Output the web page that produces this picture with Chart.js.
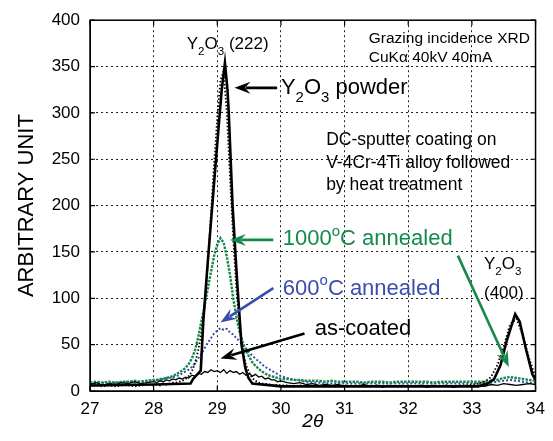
<!DOCTYPE html>
<html>
<head>
<meta charset="utf-8">
<script src="https://cdn.jsdelivr.net/npm/chart.js@4.4.1/dist/chart.umd.min.js"></script>
<style>
  html, body { margin: 0; background: #fff; }
  #wrap { width: 553px; height: 441px; }
</style>
</head>
<body>
<div id="wrap"><canvas id="xrd"></canvas></div>
<script>
// 2-theta sample positions shared by the measured scans
const theta = [
  27.0, 27.1, 27.2, 27.3, 27.4, 27.5, 27.6, 27.7, 27.8, 27.9, 28.0,
  28.05, 28.1, 28.15, 28.2, 28.25, 28.3, 28.35, 28.4, 28.45, 28.5,
  28.55, 28.6, 28.65, 28.7, 28.75, 28.8, 28.85, 28.9, 28.95, 29.0,
  29.05, 29.1, 29.15, 29.2, 29.25, 29.3, 29.35, 29.4, 29.45, 29.5,
  29.55, 29.6, 29.65, 29.7, 29.75, 29.8, 29.85, 29.9, 29.95, 30.0,
  30.1, 30.2, 30.3, 30.4, 30.5, 30.6, 30.7, 30.8, 30.9, 31.0,
  31.1, 31.2, 31.3, 31.4, 31.5, 31.6, 31.7, 31.8, 31.9, 32.0,
  32.1, 32.2, 32.3, 32.4, 32.5, 32.6, 32.7, 32.8, 32.9, 33.0,
  33.1, 33.2, 33.3, 33.4, 33.5, 33.6, 33.7, 33.8, 33.9, 34.0
];

const powderRaw = [
  5, 6, 5, 6, 5, 6, 6, 5, 6, 7, 6,
  7, 6, 8, 7, 8, 9, 9, 10, 11, 13,
  16, 21, 30, 44, 62, 90, 135, 190, 245, 295,
  335, 345, 300, 230, 165, 110, 70, 45, 28, 20,
  14, 11, 9, 8, 8, 7, 7, 6, 7, 6,
  6, 5, 6, 5, 6, 5, 6, 5, 5, 6,
  5, 6, 5, 5, 6, 5, 6, 5, 5, 6,
  5, 6, 5, 6, 5, 6, 5, 6, 6, 7,
  8, 10, 15, 28, 48, 72, 78, 60, 35, 15
];

const asCoated = [
  7, 9, 6, 8, 7, 9, 8, 10, 8, 9, 10,
  9, 11, 10, 12, 11, 13, 12, 14, 13, 15,
  14, 17, 16, 19, 18, 21, 20, 23, 21, 22,
  20, 23, 19, 22, 20, 21, 18, 20, 17, 19,
  16, 18, 15, 16, 13, 14, 12, 12, 10, 11,
  9, 8, 9, 7, 8, 6, 7, 6, 7, 5,
  6, 5, 7, 5, 6, 4, 6, 5, 6, 5,
  5, 6, 4, 6, 5, 6, 4, 5, 6, 5,
  6, 5, 7, 6, 8, 7, 6, 7, 8, 7
];

const annealed1000 = [
  9, 10, 9, 10, 9, 10, 10, 11, 10, 11, 12,
  12, 13, 13, 14, 15, 16, 18, 20, 22, 25,
  29, 35, 44, 58, 75, 92, 110, 128, 146, 158,
  165, 160, 145, 125, 100, 80, 64, 52, 44, 37,
  31, 27, 24, 21, 19, 17, 16, 15, 14, 13,
  13, 12, 12, 11, 11, 11, 10, 11, 10, 10,
  10, 10, 9, 10, 10, 10, 9, 10, 10, 10,
  10, 10, 10, 9, 10, 10, 10, 10, 10, 10,
  10, 10, 11, 12, 14, 15, 14, 13, 12, 11
];

const annealed600 = [
  8, 8, 9, 8, 9, 9, 10, 9, 10, 11, 11,
  12, 12, 13, 14, 14, 15, 16, 17, 19, 21,
  23, 26, 30, 35, 40, 46, 52, 57, 62, 65,
  68, 66, 67, 63, 61, 57, 54, 50, 46, 42,
  38, 35, 32, 29, 26, 24, 22, 20, 18, 16,
  14, 12, 11, 10, 9, 9, 8, 8, 8, 8,
  8, 8, 8, 8, 8, 8, 8, 8, 8, 8,
  8, 8, 8, 8, 8, 8, 8, 8, 8, 8,
  8, 8, 9, 10, 11, 12, 11, 10, 9, 9
];

// reference powder pattern (solid line)
const powderFitX = [27.0, 28.0, 28.58, 28.62, 28.7, 28.74, 28.78, 28.84, 28.9, 28.96, 29.02, 29.07, 29.12,
  29.16, 29.18, 29.24, 29.31, 29.38, 29.44, 29.49, 29.55, 30.0, 31.0, 32.0, 33.1, 33.25, 33.35, 33.45,
  33.55, 33.68, 33.75, 33.85, 33.95, 34.0];
const powderFitY = [6, 7, 8, 13, 19, 22, 75, 130, 182, 233, 284, 325, 354,
  325, 300, 200, 120, 50, 25, 14, 8, 5, 5, 5, 5, 8, 13, 28,
  55, 83, 75, 45, 18, 12];

const green = "#138a4b";
const blue = "#3a4cae";
const fontFamily = '"Liberation Sans", Arial, sans-serif';

const sub = (t) => [t, "sub"];
const sup = (t) => [t, "sup"];

const labels = [
  { x: 28.52, y: 369, size: 17, color: "#000", parts: [["Y"], sub("2"), ["O"], sub("3"), [" (222)"]] },
  { x: 31.38, y: 375, size: 15.5, color: "#000", parts: [["Grazing incidence XRD"]] },
  { x: 31.38, y: 355, size: 15.5, color: "#000", parts: [["CuK\u03b1 40kV 40mA"]] },
  { x: 30.0, y: 320, size: 22, color: "#000", parts: [["Y"], sub("2"), ["O"], sub("3"), [" powder"]] },
  { x: 30.71, y: 265, size: 17.5, color: "#000", parts: [["DC-sputter coating on"]] },
  { x: 30.71, y: 241, size: 17.5, color: "#000", parts: [["V-4Cr-4Ti alloy followed"]] },
  { x: 30.71, y: 217, size: 17.5, color: "#000", parts: [["by heat treatment"]] },
  { x: 30.03, y: 157, size: 22, color: green, parts: [["1000"], sup("o"), ["C annealed"]] },
  { x: 30.03, y: 104, size: 22, color: blue, parts: [["600"], sup("o"), ["C annealed"]] },
  { x: 30.53, y: 60, size: 22, color: "#000", parts: [["as-coated"]] },
  { x: 33.19, y: 132, size: 17, color: "#000", parts: [["Y"], sub("2"), ["O"], sub("3")] },
  { x: 33.19, y: 100, size: 17, color: "#000", parts: [["(400)"]] },
];

const arrows = [
  { from: [29.94, 327], to: [29.27, 327], color: "#000" },
  { from: [29.88, 163], to: [29.2, 163], color: green },
  { from: [29.88, 111], to: [29.05, 74], color: blue },
  { from: [30.37, 62], to: [29.05, 35], color: "#000" },
  { from: [32.78, 146], to: [33.58, 26], color: green },
];

function richText(ctx, parts, x, y, size, color) {
  ctx.fillStyle = color;
  ctx.textBaseline = "alphabetic";
  ctx.textAlign = "left";
  let cx = x;
  parts.forEach(([t, mode]) => {
    const s = mode ? size * 0.68 : size;
    ctx.font = s + "px " + fontFamily;
    const dy = mode === "sub" ? size * 0.35 : mode === "sup" ? -size * 0.42 : 0;
    ctx.fillText(t, cx, y + dy);
    cx += ctx.measureText(t).width;
  });
}

function arrow(ctx, x0, y0, x1, y1, color) {
  const a = Math.atan2(y1 - y0, x1 - x0);
  const L = 16, W = 6;
  const c = Math.cos(a), s = Math.sin(a);
  ctx.strokeStyle = color;
  ctx.fillStyle = color;
  ctx.lineWidth = 2.6;
  ctx.setLineDash([]);
  ctx.beginPath();
  ctx.moveTo(x0, y0);
  ctx.lineTo(x1 - L * 0.7 * c, y1 - L * 0.7 * s);
  ctx.stroke();
  ctx.beginPath();
  ctx.moveTo(x1, y1);
  ctx.lineTo(x1 - L * c + W * s, y1 - L * s - W * c);
  ctx.lineTo(x1 - L * 0.65 * c, y1 - L * 0.65 * s);
  ctx.lineTo(x1 - L * c - W * s, y1 - L * s + W * c);
  ctx.closePath();
  ctx.fill();
}

const annotations = {
  id: "annotations",
  afterDraw(chart) {
    const { ctx, chartArea: a, scales: { x, y } } = chart;
    ctx.save();
    // frame and inward ticks
    ctx.setLineDash([]);
    ctx.strokeStyle = "#000";
    ctx.lineWidth = 1.5;
    ctx.strokeRect(a.left, a.top, a.right - a.left, a.bottom - a.top);
    ctx.lineWidth = 1.2;
    ctx.beginPath();
    x.ticks.forEach((t) => {
      const px = x.getPixelForValue(t.value);
      ctx.moveTo(px, a.bottom); ctx.lineTo(px, a.bottom - 5);
      ctx.moveTo(px, a.top); ctx.lineTo(px, a.top + 5);
    });
    y.ticks.forEach((t) => {
      const py = y.getPixelForValue(t.value);
      ctx.moveTo(a.left, py); ctx.lineTo(a.left + 5, py);
      ctx.moveTo(a.right, py); ctx.lineTo(a.right - 5, py);
    });
    ctx.stroke();

    arrows.forEach((ar) => {
      arrow(ctx,
        x.getPixelForValue(ar.from[0]), y.getPixelForValue(ar.from[1]),
        x.getPixelForValue(ar.to[0]), y.getPixelForValue(ar.to[1]), ar.color);
    });
    labels.forEach((l) => {
      richText(ctx, l.parts, x.getPixelForValue(l.x), y.getPixelForValue(l.y), l.size, l.color);
    });
    ctx.restore();
  },
};

const toPts = (xs, ys) => xs.map((v, i) => ({ x: v, y: ys[i] }));

Chart.defaults.font.family = fontFamily;
Chart.defaults.color = "#000";

new Chart(document.getElementById("xrd"), {
  type: "scatter",
  data: {
    datasets: [
      { label: "Y2O3 powder", data: toPts(powderFitX, powderFitY), showLine: true,
        borderColor: "#000", borderWidth: 2.6, pointRadius: 0 },
      { label: "Y2O3 powder (measured)", data: toPts(theta, powderRaw), showLine: true,
        borderColor: "#000", borderWidth: 1.8, borderDash: [1.5, 2], pointRadius: 0 },
      { label: "as-coated", data: toPts(theta, asCoated), showLine: true,
        borderColor: "#000", borderWidth: 1.3, pointRadius: 0 },
      { label: "1000\u00b0C annealed", data: toPts(theta, annealed1000), showLine: true,
        borderColor: green, borderWidth: 2.4, borderDash: [2.5, 1.2], pointRadius: 0 },
      { label: "600\u00b0C annealed", data: toPts(theta, annealed600), showLine: true,
        borderColor: blue, borderWidth: 2, borderDash: [2, 2], pointRadius: 0 },
    ],
  },
  options: {
    responsive: true,
    maintainAspectRatio: false,
    animation: false,
    layout: { padding: { top: 16, right: 13, left: 0, bottom: 0 } },
    plugins: { legend: { display: false }, tooltip: { enabled: false } },
    scales: {
      x: {
        type: "linear",
        min: 27,
        max: 34,
        ticks: { stepSize: 1, color: "#000", font: { size: 17 }, padding: 8 },
        grid: { color: "#222", lineWidth: 1, drawTicks: false },
        border: { dash: [2, 3], color: "#000" },
        title: { display: true, text: "2\u03b8", color: "#000", font: { size: 19, style: "italic" }, padding: { top: 0, bottom: 8 } },
        afterFit: (s) => { s.height = 50; },
      },
      y: {
        min: 0,
        max: 400,
        ticks: { stepSize: 50, color: "#000", font: { size: 17 }, padding: 10 },
        grid: { color: "#222", lineWidth: 1, drawTicks: false },
        border: { dash: [2, 3], color: "#000" },
        title: { display: true, text: "ARBITRARY UNIT", color: "#000", font: { size: 22 }, padding: 14 },
        afterFit: (s) => { s.width = 90; },
      },
    },
  },
  plugins: [annotations],
});
</script>
</body>
</html>
